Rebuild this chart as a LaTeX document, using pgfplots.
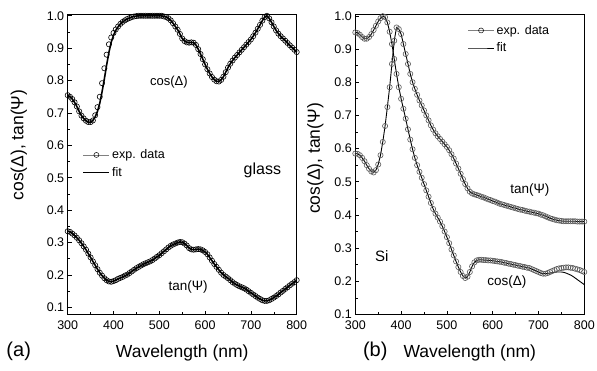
\documentclass[border=0pt]{standalone}
\usepackage{pgfplots}
\pgfplotsset{compat=1.18}
\usepackage{pgfplotstable}
\usepackage{fontspec}
\setmainfont{Liberation Sans}

\pgfplotstableread{
x c cf t
300 0.755 0.755 0.335
305 0.750 0.750 0.333
310 0.743 0.743 0.328
315 0.733 0.733 0.322
320 0.720 0.720 0.315
325 0.705 0.705 0.307
330 0.692 0.692 0.298
335 0.683 0.683 0.288
340 0.676 0.676 0.278
345 0.672 0.672 0.266
350 0.672 0.672 0.254
355 0.677 0.677 0.242
360 0.693 0.688 0.230
365 0.718 0.705 0.218
370 0.750 0.730 0.207
375 0.792 0.765 0.198
380 0.838 0.805 0.190
385 0.880 0.848 0.184
390 0.912 0.887 0.180
395 0.933 0.918 0.179
400 0.947 0.940 0.181
405 0.958 0.955 0.184
410 0.967 0.966 0.188
415 0.975 0.975 0.191
420 0.981 0.981 0.194
425 0.986 0.986 0.198
430 0.990 0.990 0.201
435 0.993 0.993 0.206
440 0.996 0.996 0.211
445 0.998 0.998 0.216
450 0.999 0.999 0.221
455 1.000 1.000 0.225
460 1.000 1.000 0.229
465 1.000 1.000 0.233
470 1.000 1.000 0.236
475 1.000 1.000 0.239
480 1.000 1.000 0.242
485 1.000 1.000 0.246
490 1.000 1.000 0.251
495 1.000 1.000 0.256
500 1.000 1.000 0.261
505 1.000 1.000 0.267
510 0.998 0.998 0.273
515 0.996 0.996 0.279
520 0.992 0.992 0.285
525 0.986 0.986 0.290
530 0.977 0.977 0.294
535 0.967 0.967 0.297
540 0.957 0.957 0.300
545 0.944 0.944 0.302
550 0.930 0.930 0.301
555 0.922 0.922 0.297
560 0.918 0.918 0.291
565 0.917 0.917 0.283
570 0.918 0.918 0.279
575 0.917 0.917 0.278
580 0.910 0.910 0.279
585 0.897 0.897 0.280
590 0.882 0.882 0.279
595 0.866 0.866 0.276
600 0.850 0.850 0.271
605 0.835 0.835 0.264
610 0.822 0.822 0.254
615 0.811 0.811 0.244
620 0.803 0.803 0.234
625 0.798 0.798 0.225
630 0.797 0.797 0.216
635 0.802 0.802 0.207
640 0.812 0.812 0.200
645 0.826 0.826 0.195
650 0.840 0.840 0.190
655 0.852 0.852 0.184
660 0.862 0.862 0.178
665 0.871 0.871 0.173
670 0.879 0.879 0.169
675 0.887 0.887 0.165
680 0.895 0.895 0.162
685 0.903 0.903 0.159
690 0.911 0.911 0.155
695 0.919 0.919 0.150
700 0.927 0.927 0.145
705 0.937 0.937 0.140
710 0.948 0.948 0.135
715 0.960 0.960 0.130
720 0.972 0.972 0.126
725 0.985 0.985 0.122
730 0.996 0.996 0.120
735 1.000 1.000 0.120
740 0.992 0.992 0.122
745 0.980 0.980 0.126
750 0.967 0.967 0.130
755 0.955 0.955 0.135
760 0.945 0.945 0.140
765 0.937 0.937 0.146
770 0.930 0.930 0.151
775 0.923 0.923 0.157
780 0.916 0.916 0.162
785 0.909 0.909 0.168
790 0.902 0.902 0.173
795 0.895 0.895 0.178
800 0.888 0.888 0.184
}\glass

\pgfplotstableread{
x c cf t
300 0.950 0.950 0.585
305 0.948 0.948 0.584
310 0.943 0.943 0.580
315 0.936 0.936 0.572
320 0.931 0.931 0.562
325 0.931 0.931 0.550
330 0.936 0.936 0.539
335 0.945 0.945 0.531
340 0.957 0.957 0.528
345 0.970 0.970 0.535
350 0.983 0.983 0.552
355 0.993 0.993 0.580
360 0.999 0.999 0.620
365 0.996 0.996 0.668
370 0.980 0.980 0.725
375 0.952 0.952 0.785
380 0.915 0.915 0.855
385 0.870 0.870 0.925
390 0.825 0.825 0.965
395 0.785 0.785 0.960
400 0.750 0.750 0.945
405 0.720 0.720 0.915
410 0.690 0.690 0.885
415 0.658 0.658 0.855
420 0.627 0.627 0.825
425 0.598 0.598 0.800
430 0.572 0.572 0.780
435 0.550 0.550 0.762
440 0.530 0.530 0.745
445 0.512 0.512 0.730
450 0.493 0.493 0.715
455 0.474 0.474 0.700
460 0.455 0.455 0.685
465 0.436 0.436 0.670
470 0.418 0.418 0.657
475 0.404 0.404 0.646
480 0.392 0.392 0.637
485 0.380 0.380 0.629
490 0.366 0.366 0.621
495 0.350 0.350 0.613
500 0.333 0.333 0.605
505 0.315 0.315 0.595
510 0.296 0.296 0.583
515 0.278 0.278 0.570
520 0.260 0.260 0.555
525 0.243 0.243 0.540
530 0.228 0.228 0.524
535 0.216 0.216 0.508
540 0.210 0.210 0.493
545 0.214 0.214 0.480
550 0.228 0.228 0.470
555 0.245 0.245 0.465
560 0.257 0.257 0.462
565 0.263 0.263 0.460
570 0.265 0.265 0.458
575 0.265 0.265 0.455
580 0.264 0.264 0.453
585 0.264 0.264 0.450
590 0.263 0.263 0.447
595 0.263 0.263 0.445
600 0.262 0.262 0.442
605 0.261 0.261 0.440
610 0.260 0.260 0.437
615 0.259 0.259 0.434
620 0.258 0.258 0.432
625 0.256 0.256 0.430
630 0.255 0.255 0.428
635 0.253 0.253 0.426
640 0.252 0.252 0.424
645 0.250 0.250 0.422
650 0.249 0.249 0.420
655 0.247 0.247 0.418
660 0.246 0.246 0.416
665 0.244 0.244 0.415
670 0.243 0.243 0.413
675 0.241 0.241 0.411
680 0.240 0.240 0.410
685 0.237 0.237 0.408
690 0.234 0.234 0.407
695 0.231 0.231 0.405
700 0.228 0.228 0.404
705 0.225 0.225 0.401
710 0.223 0.223 0.399
715 0.223 0.223 0.396
720 0.225 0.224 0.393
725 0.228 0.225 0.390
730 0.231 0.226 0.388
735 0.234 0.227 0.386
740 0.237 0.228 0.384
745 0.239 0.228 0.383
750 0.240 0.228 0.382
755 0.241 0.227 0.381
760 0.242 0.225 0.381
765 0.242 0.222 0.381
770 0.241 0.219 0.381
775 0.240 0.215 0.381
780 0.238 0.210 0.381
785 0.236 0.205 0.380
790 0.234 0.200 0.380
795 0.231 0.195 0.380
800 0.228 0.190 0.380
}\silicon

\pgfplotsset{
  panel/.style={
    scale only axis, width=229bp, height=300bp,
    xmin=300, xmax=800,
    xtick={300,400,...,800}, minor x tick num=1,
    ytick={0.1,0.2,...,1.0}, minor y tick num=1,
    tick pos=left, tick align=inside,
    major tick length=4bp, minor tick length=2.2bp,
    axis line style={line width=0.7pt}, every tick/.style={black, line width=0.6pt},
    tick label style={font=\fontsize{12.5bp}{14bp}\selectfont},
    xticklabel style={yshift=-3bp},
    /pgf/number format/assume math mode=true,
    yticklabel style={/pgf/number format/fixed, /pgf/number format/fixed zerofill, /pgf/number format/precision=1},
    xlabel={Wavelength (nm)},
    ylabel={cos(Δ), tan(Ψ)},
    label style={font=\fontsize{17.5bp}{20bp}\selectfont},
    x label style={at={(axis description cs:0.5,0)}, anchor=center, yshift=-38bp},
    clip=false,
    legend cell align=left,
    legend style={draw=none, fill=none, font=\fontsize{12.5bp}{14bp}\selectfont, row sep=3bp, inner sep=1pt},
    legend image code/.code={\draw[mark repeat=2,mark phase=2,##1] plot coordinates {(0bp,0bp) (13bp,0bp) (26bp,0bp)};},
  },
  expd/.style={only marks, mark=o, mark size=2.6bp, mark options={line width=0.6pt}},
  fitl/.style={no marks, black},
}

\begin{document}
\begin{tikzpicture}
\useasboundingbox (-67.7bp,-56.5bp) rectangle (529.3bp,314.5bp);
% (a) glass
\begin{axis}[panel, at={(0,0)}, anchor=south west,
  ymin=0.078, ymax=1.004,
  y label style={at={(axis description cs:-0.213,0.565)}, anchor=center},
  legend style={at={(axis description cs:0.06,0.56)}, anchor=north west}]
\addlegendimage{gray, line width=0.5pt, mark=o, mark size=2.5bp, mark options={black, line width=0.5pt}}
\addlegendentry{exp. data}
\addlegendimage{black, line width=1.6pt}
\addlegendentry{fit}
\addplot[expd, black, forget plot] table[x=x, y=c] {\glass};
\addplot[expd, black, forget plot] table[x=x, y=t] {\glass};
\addplot[fitl, line width=1.6pt, forget plot] table[x=x, y=cf] {\glass};
\addplot[fitl, line width=1.6pt, forget plot] table[x=x, y=t] {\glass};
\node[font=\fontsize{13bp}{15bp}\selectfont] at (axis cs:521,0.795) {cos(Δ)};
\node[font=\fontsize{16bp}{18bp}\selectfont] at (axis cs:725,0.523) {glass};
\node[font=\fontsize{13.5bp}{15bp}\selectfont] at (axis cs:563,0.163) {tan(Ψ)};
\node[font=\fontsize{20bp}{22bp}\selectfont] at (rel axis cs:0,0) [xshift=-49bp, yshift=-37bp] {(a)};
\end{axis}
% (b) Si
\begin{axis}[panel, at={(287.6bp,0)}, anchor=south west,
  ymin=0.1, ymax=1.004,
  y label style={at={(axis description cs:-0.175,0.52)}, anchor=center},
  legend style={at={(axis description cs:0.485,0.975)}, anchor=north west}]
\addlegendimage{gray, line width=0.5pt, mark=o, mark size=2.5bp, mark options={black, line width=0.5pt}}
\addlegendentry{exp. data}
\addlegendimage{black, line width=1.0pt}
\addlegendentry{fit}
\addplot[expd, black!65, forget plot] table[x=x, y=c] {\silicon};
\addplot[expd, black!65, forget plot] table[x=x, y=t] {\silicon};
\addplot[fitl, line width=0.9pt, forget plot] table[x=x, y=cf] {\silicon};
\addplot[fitl, line width=0.9pt, forget plot] table[x=x, y=t] {\silicon};
\node[font=\fontsize{13.5bp}{15bp}\selectfont] at (axis cs:681,0.476) {tan(Ψ)};
\node[font=\fontsize{15bp}{17bp}\selectfont] at (axis cs:358,0.275) {Si};
\node[font=\fontsize{13.5bp}{15bp}\selectfont] at (axis cs:631,0.197) {cos(Δ)};
\node[font=\fontsize{20bp}{22bp}\selectfont] at (rel axis cs:0,0) [xshift=20bp, yshift=-37bp] {(b)};
\end{axis}
\end{tikzpicture}
\end{document}
